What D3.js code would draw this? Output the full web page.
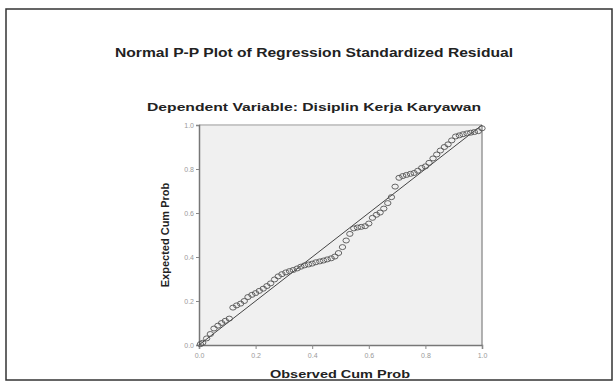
<!DOCTYPE html>
<html>
<head>
<meta charset="utf-8">
<script src="https://cdn.jsdelivr.net/npm/d3@7"></script>
<style>
  html, body { margin: 0; padding: 0; background: #fff; }
  svg { display: block; font-family: 'Liberation Sans', Arial, sans-serif; }
</style>
</head>
<body>
<svg id="chart" width="615" height="390"></svg>
<script>
// observed vs expected cumulative probability
const observed = [
  0.005, 0.013, 0.027, 0.040, 0.053, 0.067, 0.080, 0.093, 0.107, 0.120,
  0.133, 0.147, 0.160, 0.173, 0.187, 0.200, 0.213, 0.227, 0.240, 0.253,
  0.267, 0.280, 0.293, 0.307, 0.320, 0.333, 0.347, 0.360, 0.373, 0.387,
  0.400, 0.413, 0.427, 0.440, 0.453, 0.467, 0.480, 0.493, 0.507, 0.520,
  0.533, 0.547, 0.560, 0.573, 0.587, 0.600, 0.613, 0.627, 0.640, 0.653,
  0.667, 0.680, 0.693, 0.707, 0.720, 0.733, 0.747, 0.760, 0.773, 0.787,
  0.800, 0.813, 0.827, 0.840, 0.853, 0.867, 0.880, 0.893, 0.907, 0.920,
  0.933, 0.947, 0.960, 0.973, 0.987, 1.000
]
const expected = [
  0.004, 0.010, 0.030, 0.050, 0.075, 0.088, 0.100, 0.110, 0.120, 0.170,
  0.180, 0.188, 0.200, 0.218, 0.228, 0.236, 0.246, 0.256, 0.268, 0.280,
  0.298, 0.312, 0.322, 0.330, 0.336, 0.341, 0.348, 0.356, 0.362, 0.366,
  0.370, 0.376, 0.380, 0.384, 0.389, 0.394, 0.402, 0.418, 0.445, 0.475,
  0.505, 0.530, 0.534, 0.537, 0.540, 0.552, 0.578, 0.592, 0.602, 0.620,
  0.645, 0.672, 0.720, 0.760, 0.768, 0.773, 0.778, 0.782, 0.792, 0.805,
  0.812, 0.828, 0.848, 0.866, 0.884, 0.900, 0.912, 0.930, 0.948, 0.953,
  0.958, 0.962, 0.965, 0.968, 0.972, 0.985
]
const ticks = [0, 0.2, 0.4, 0.6, 0.8, 1.0]
const title = 'Normal P-P Plot of Regression Standardized Residual'
const subtitle = 'Dependent Variable: Disiplin Kerja Karyawan'
const xLabel = 'Observed Cum Prob'
const yLabel = 'Expected Cum Prob'

const svg = d3.select('#chart')
const plot = { left: 199, right: 482, top: 125, bottom: 345 }

const xScale = d3.scaleLinear().domain([0, 1]).range([plot.left, plot.right])
const yScale = d3.scaleLinear().domain([0, 1]).range([plot.bottom, plot.top])

// outer frame
svg.append('rect')
  .attr('x', 6).attr('y', 9).attr('width', 606).attr('height', 371)
  .attr('fill', 'none').attr('stroke', '#333').attr('stroke-width', 1.5)

// titles (source picture is stretched horizontally, so force widths)
svg.append('text')
  .attr('x', 314).attr('y', 57)
  .attr('text-anchor', 'middle')
  .attr('font-size', 12).attr('font-weight', 'bold').attr('fill', '#222')
  .attr('textLength', 398).attr('lengthAdjust', 'spacingAndGlyphs')
  .text(title)

svg.append('text')
  .attr('x', 314).attr('y', 111)
  .attr('text-anchor', 'middle')
  .attr('font-size', 11).attr('font-weight', 'bold').attr('fill', '#222')
  .attr('textLength', 334).attr('lengthAdjust', 'spacingAndGlyphs')
  .text(subtitle)

// plot background
svg.append('rect')
  .attr('x', plot.left).attr('y', plot.top)
  .attr('width', plot.right - plot.left).attr('height', plot.bottom - plot.top)
  .attr('fill', '#f0f0f0')

svg.append('line')
  .attr('x1', plot.left).attr('x2', plot.right).attr('y1', plot.top).attr('y2', plot.top)
  .attr('stroke', '#c8c8c8').attr('stroke-width', 2)
svg.append('line')
  .attr('x1', plot.right).attr('x2', plot.right).attr('y1', plot.top).attr('y2', plot.bottom)
  .attr('stroke', '#999').attr('stroke-width', 1.5)

// axes
const xAxis = svg.append('g')
  .attr('transform', `translate(0,${plot.bottom})`)
  .call(d3.axisBottom(xScale).tickValues(ticks).tickSize(4).tickFormat(d3.format('.1f')))
const yAxis = svg.append('g')
  .attr('transform', `translate(${plot.left},0)`)
  .call(d3.axisLeft(yScale).tickValues(ticks).tickSize(3).tickFormat(d3.format('.1f')))

;[xAxis, yAxis].forEach((g) => {
  g.select('.domain').attr('stroke', '#777').attr('stroke-width', 1.5)
  g.selectAll('.tick line').attr('stroke', '#888')
  g.selectAll('.tick text').attr('fill', '#999').attr('font-size', 7)
    .attr('font-family', "'Liberation Sans', Arial, sans-serif")
})
xAxis.selectAll('.tick text').attr('dy', '0.9em')
yAxis.selectAll('.tick text').attr('x', -5)

// reference diagonal
svg.append('line')
  .attr('x1', xScale(0)).attr('y1', yScale(0))
  .attr('x2', xScale(1)).attr('y2', yScale(1))
  .attr('stroke', '#444').attr('stroke-width', 1)

// points
svg.append('g')
  .selectAll('ellipse')
  .data(observed.map((o, i) => ({ o, e: expected[i] })))
  .join('ellipse')
  .attr('cx', (d) => xScale(d.o))
  .attr('cy', (d) => yScale(d.e))
  .attr('rx', 3.2).attr('ry', 2.5)
  .attr('fill', 'none').attr('stroke', '#555').attr('stroke-width', 0.9)

// axis labels
svg.append('text')
  .attr('x', 340).attr('y', 378)
  .attr('text-anchor', 'middle')
  .attr('font-size', 11).attr('font-weight', 'bold').attr('fill', '#222')
  .attr('textLength', 140).attr('lengthAdjust', 'spacingAndGlyphs')
  .text(xLabel)

svg.append('text')
  .attr('transform', 'translate(169,235) rotate(-90)')
  .attr('text-anchor', 'middle')
  .attr('font-size', 11).attr('font-weight', 'bold').attr('fill', '#222')
  .text(yLabel)
</script>
</body>
</html>
